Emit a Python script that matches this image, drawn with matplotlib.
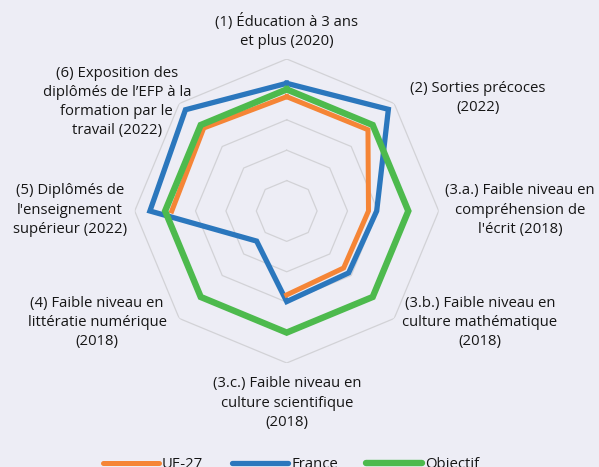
import numpy as np
import matplotlib
matplotlib.use('Agg')
import matplotlib.pyplot as plt

# axis labels (clockwise from top)
labels = [
    "(1) Éducation à 3 ans\net plus (2020)",
    "(2) Sorties précoces\n(2022)",
    "(3.a.) Faible niveau en\ncompréhension de\nl'écrit (2018)",
    "(3.b.) Faible niveau en\nculture mathématique\n(2018)",
    "(3.c.) Faible niveau en\nculture scientifique\n(2018)",
    "(4) Faible niveau en\nlittératie numérique\n(2018)",
    "(5) Diplômés de\nl'enseignement\nsupérieur (2022)",
    "(6) Exposition des\ndiplômés de l\u2019EFP à la\nformation par le\ntravail (2022)",
]
# label centres in figure fractions
label_pos = [(0.479, 0.933), (0.798, 0.790), (0.868, 0.550), (0.801, 0.310),
             (0.479, 0.137), (0.162, 0.310), (0.117, 0.550), (0.195, 0.782)]

ue27 = [3.76, 3.78, 2.69, 2.65, 2.76, np.nan, 3.78, 3.86]
france = [4.20, 4.73, 2.96, 2.88, 2.98, 1.40, 4.50, 4.71]
objectif = [4.0, 4.0, 4.0, 4.0, 4.0, 4.0, 4.0, 4.0]
rings = [1, 2, 3, 4, 5]

bg = '#EDEDF5'
fig = plt.figure(figsize=(5.99, 4.67), dpi=100, facecolor=bg)
ax = fig.add_axes([0.2249, 0.2227, 0.5075, 0.651], projection='polar')
ax.set_facecolor(bg)
ax.set_theta_offset(np.pi / 2)
ax.set_theta_direction(-1)

n = len(labels)
theta = np.linspace(0, 2 * np.pi, n, endpoint=False)
theta_c = np.append(theta, theta[0])

# polygonal grid
for r in rings:
    ax.plot(theta_c, [r] * (n + 1), color='#D2D2D6', lw=0.9, zorder=1)

ax.plot(theta_c, france + france[:1], color='#2B77BD', lw=3.8, zorder=3,
        label='France', solid_joinstyle='miter')
ax.plot(theta_c, ue27 + ue27[:1], color='#F58536', lw=3.6, zorder=4,
        label='UE-27', solid_joinstyle='miter')
ax.plot(theta_c, objectif + objectif[:1], color='#4DBA4D', lw=4.6, zorder=5,
        label='Objectif', solid_joinstyle='miter')

ax.set_ylim(0, 5)
ax.set_xticks([])
ax.set_yticks([])
ax.grid(False)
ax.spines['polar'].set_visible(False)

for lab, (x, y) in zip(labels, label_pos):
    fig.text(x, y, lab, ha='center', va='center', fontsize=10.7,
             family='Open Sans', color='#161616', linespacing=1.38)

h, l = ax.get_legend_handles_labels()
order = [1, 0, 2]
leg = fig.legend([h[i] for i in order], [l[i] for i in order], loc='center',
                 bbox_to_anchor=(0.486, 0.005), ncol=3, frameon=False,
                 handlelength=3.8, handletextpad=0.2, columnspacing=1.9,
                 prop={'family': 'Open Sans', 'size': 10.7})
for t in leg.get_texts():
    t.set_color('#161616')
for ln in leg.get_lines():
    ln.set_solid_capstyle('round')

fig.savefig('out.png', dpi=100, facecolor=bg)
